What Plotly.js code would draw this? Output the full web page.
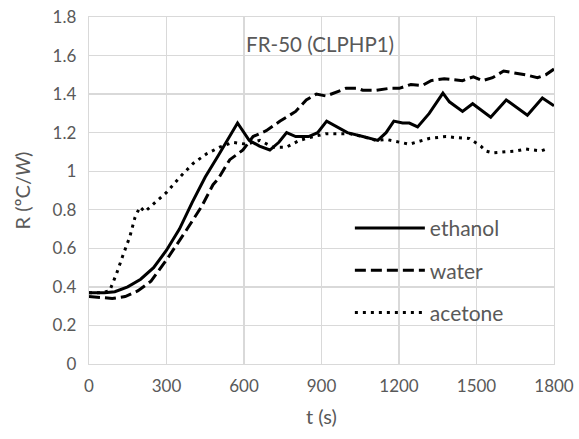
<!DOCTYPE html>
<html>
<head>
<meta charset="utf-8">
<script src="https://cdn.plot.ly/plotly-3.0.1.min.js"></script>
<style>html,body{margin:0;padding:0;background:#fff;}#chart{width:579px;height:439px;}</style>
</head>
<body>
<div id="chart"></div>
<script>
const seriesNames = ["ethanol", "water", "acetone"];

const ethanolT = [0, 30, 60, 100, 150, 200, 250, 300, 350, 400, 450, 500, 550, 575, 620, 660, 700, 735, 765, 800, 850, 885, 920, 960, 1000, 1060, 1118, 1150, 1180, 1214, 1240, 1272, 1317, 1370, 1395, 1446, 1485, 1555, 1615, 1697, 1755, 1800];
const ethanolR = [0.37, 0.37, 0.37, 0.375, 0.40, 0.44, 0.50, 0.59, 0.70, 0.84, 0.97, 1.08, 1.19, 1.25, 1.16, 1.13, 1.11, 1.15, 1.20, 1.18, 1.18, 1.20, 1.26, 1.23, 1.20, 1.18, 1.16, 1.20, 1.26, 1.25, 1.25, 1.23, 1.30, 1.405, 1.36, 1.31, 1.35, 1.28, 1.37, 1.29, 1.38, 1.34];

const waterT = [0, 40, 90, 140, 190, 240, 300, 370, 435, 480, 500, 545, 596, 635, 686, 740, 800, 841, 880, 918, 957, 995, 1040, 1060, 1111, 1163, 1201, 1246, 1291, 1324, 1375, 1446, 1488, 1523, 1562, 1605, 1645, 1691, 1736, 1768, 1800];
const waterR = [0.35, 0.345, 0.34, 0.35, 0.38, 0.43, 0.54, 0.68, 0.815, 0.93, 0.96, 1.06, 1.11, 1.18, 1.21, 1.26, 1.31, 1.37, 1.40, 1.39, 1.41, 1.43, 1.43, 1.42, 1.42, 1.43, 1.43, 1.45, 1.445, 1.47, 1.48, 1.47, 1.49, 1.47, 1.485, 1.52, 1.51, 1.50, 1.485, 1.50, 1.53];

const acetoneT = [0, 50, 80, 107, 133, 158, 178, 197, 216, 248, 300, 352, 403, 455, 506, 557, 609, 661, 712, 764, 815, 870, 918, 982, 1008, 1060, 1111, 1150, 1201, 1240, 1317, 1382, 1414, 1472, 1517, 1536, 1562, 1614, 1652, 1691, 1749, 1780];
const acetoneR = [0.37, 0.37, 0.38, 0.47, 0.57, 0.66, 0.76, 0.815, 0.79, 0.83, 0.89, 0.97, 1.04, 1.09, 1.125, 1.15, 1.14, 1.16, 1.125, 1.125, 1.16, 1.18, 1.195, 1.195, 1.195, 1.18, 1.16, 1.165, 1.15, 1.14, 1.17, 1.18, 1.175, 1.17, 1.13, 1.105, 1.095, 1.10, 1.105, 1.115, 1.105, 1.12];

const xTicks = [0, 300, 600, 900, 1200, 1500, 1800];
const yTicks = [0, 0.2, 0.4, 0.6, 0.8, 1, 1.2, 1.4, 1.6, 1.8];
const yTickText = ["0", "0.2", "0.4", "0.6", "0.8", "1", "1.2", "1.4", "1.6", "1.8"];

const FONT = "Lato, 'Open Sans', sans-serif";
const GRAY = "#595959";
const GRID = "#d9d9d9";

const traces = [
  {x: ethanolT, y: ethanolR, name: seriesNames[0], legendgroup: "a", mode: "lines",
   line: {color: "#000", width: 3, dash: "solid"}},
  {x: waterT, y: waterR, name: seriesNames[1], legendgroup: "b", mode: "lines",
   line: {color: "#000", width: 3, dash: "11px,5px"}},
  {x: acetoneT, y: acetoneR, name: seriesNames[2], legendgroup: "c", mode: "lines",
   line: {color: "#000", width: 3, dash: "3px,5px"}}
];

const layout = {
  width: 579, height: 439,
  paper_bgcolor: "#fff", plot_bgcolor: "#fff",
  margin: {l: 89, r: 25, t: 17, b: 75},
  font: {family: FONT, color: GRAY, size: 17},
  title: {text: "FR-50 (CLPHP1)", font: {family: FONT, size: 20.5, color: GRAY},
          xref: "paper", x: 0.497, xanchor: "center", yref: "paper", y: 0.92, yanchor: "middle"},
  xaxis: {range: [0, 1800], tickvals: xTicks, ticktext: xTicks.map(String),
          showgrid: true, gridcolor: GRID, gridwidth: 1.3, zeroline: false,
          showline: true, linecolor: GRID, linewidth: 1.3, mirror: true,
          ticks: "", tickfont: {size: 17, color: GRAY}, ticklabelstandoff: 6,
          title: {text: "t (s)", font: {size: 20, color: GRAY}, standoff: 15}},
  yaxis: {range: [0, 1.8], tickvals: yTicks, ticktext: yTickText,
          showgrid: true, gridcolor: GRID, gridwidth: 1.3, zeroline: false,
          showline: true, linecolor: GRID, linewidth: 1.3, mirror: true,
          ticks: "", tickfont: {size: 17, color: GRAY}, ticklabelstandoff: 8,
          title: {text: "R (ºC/<i>W</i>)", font: {size: 20, color: GRAY}, standoff: 16}},
  showlegend: true,
  legend: {x: 0.561, y: 0.45, xanchor: "left", yanchor: "top", bgcolor: "rgba(0,0,0,0)",
           font: {size: 21, color: GRAY}, itemwidth: 70, tracegroupgap: 12,
           traceorder: "grouped"}
};

Plotly.newPlot("chart", traces, layout, {displayModeBar: false, staticPlot: true});
</script>
</body>
</html>
